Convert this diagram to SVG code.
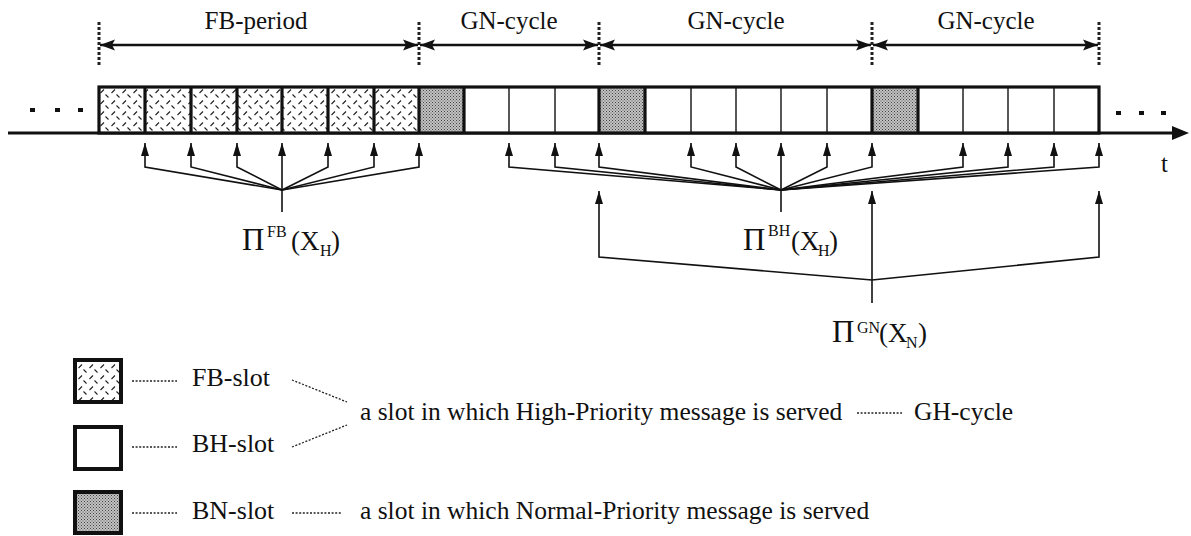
<svg xmlns="http://www.w3.org/2000/svg" width="1191" height="536" viewBox="0 0 1191 536">
<style>
text{font-family:"Liberation Serif","Times New Roman",serif;fill:#111}
.lbl{font-size:25px}
.leg{font-size:25.5px}
.slot{font-size:26px}
.pi{font-size:31px}
.sup{font-size:16px}
.par{font-size:27px}
.mk{stroke:#222;stroke-width:3;stroke-dasharray:3 2;fill:none}
.dbl{stroke:#111;stroke-width:2.5;fill:none}
.con{stroke:#111;stroke-width:1.6;fill:none}
.thick{stroke:#111;stroke-width:3.2}
.thin{stroke:#111;stroke-width:1.4}
.dot{stroke:#222;stroke-width:1.3;stroke-dasharray:2 1.6;fill:none}
.fb{fill:url(#hatch)}
.bn{fill:url(#stip)}
.wh{fill:#fff}
</style>
<defs>
<pattern id="hatch" width="11" height="11" patternUnits="userSpaceOnUse">
<rect width="11" height="11" fill="#fff"/>
<path d="M1.5 5L5 1.5M6.5 6.5L9.5 9.5" stroke="#222" stroke-width="1.1"/>
</pattern>
<pattern id="stip" width="3" height="3" patternUnits="userSpaceOnUse">
<rect width="3" height="3" fill="#c2c2c2"/>
<rect x="0" y="0" width="1" height="1" fill="#444"/>
<rect x="1.5" y="1.5" width="1" height="1" fill="#555"/>
</pattern>
<marker id="ah" markerUnits="userSpaceOnUse" markerWidth="14" markerHeight="10" viewBox="0 0 14 10" refX="13" refY="5" orient="auto">
<path d="M0 1L13 5L0 9Z" fill="#111"/>
</marker>
<marker id="big" markerUnits="userSpaceOnUse" markerWidth="16" markerHeight="12" viewBox="0 0 16 12" refX="15" refY="6" orient="auto-start-reverse">
<path d="M0 0.5L15 6L0 11.5L3 6Z" fill="#111"/>
</marker>
</defs>
<rect width="1191" height="536" fill="#fff"/>

<g id="periods">
<line class="mk" x1="99" y1="22" x2="99" y2="67"/>
<line class="mk" x1="419" y1="22" x2="419" y2="67"/>
<line class="mk" x1="599" y1="22" x2="599" y2="67"/>
<line class="mk" x1="872" y1="22" x2="872" y2="67"/>
<line class="mk" x1="1099" y1="22" x2="1099" y2="67"/>
<line class="dbl" x1="100" y1="45" x2="418" y2="45" marker-start="url(#big)" marker-end="url(#big)"/>
<line class="dbl" x1="420" y1="45" x2="598" y2="45" marker-start="url(#big)" marker-end="url(#big)"/>
<line class="dbl" x1="600" y1="45" x2="871" y2="45" marker-start="url(#big)" marker-end="url(#big)"/>
<line class="dbl" x1="873" y1="45" x2="1098" y2="45" marker-start="url(#big)" marker-end="url(#big)"/>
<text class="lbl" x="256" y="29" text-anchor="middle">FB-period</text>
<text class="lbl" x="509" y="29" text-anchor="middle">GN-cycle</text>
<text class="lbl" x="736" y="29" text-anchor="middle">GN-cycle</text>
<text class="lbl" x="986" y="29" text-anchor="middle">GN-cycle</text>
</g>

<g id="timeline">
<line x1="8" y1="133" x2="1176" y2="133" stroke="#111" stroke-width="3"/>
<path d="M1172 126L1189 133L1172 140Z" fill="#111"/>
<g fill="#111">
<rect x="30" y="108" width="5" height="4"/>
<rect x="55" y="108" width="5" height="4"/>
<rect x="78" y="108" width="5" height="4"/>
<rect x="1116" y="111" width="5" height="4"/>
<rect x="1139" y="111" width="5" height="4"/>
<rect x="1161" y="111" width="5" height="4"/>
</g>
<text class="lbl" x="1161" y="172" font-size="26">t</text>
</g>

<g id="slots">
<rect class="fb" x="99" y="87" width="320" height="46"/>
<rect class="bn" x="419" y="87" width="45" height="46"/>
<rect class="wh" x="464" y="87" width="135" height="46"/>
<rect class="bn" x="599" y="87" width="46" height="46"/>
<rect class="wh" x="645" y="87" width="227" height="46"/>
<rect class="bn" x="872" y="87" width="46" height="46"/>
<rect class="wh" x="918" y="87" width="181" height="46"/>
<g class="thin">
<line x1="509" y1="87" x2="509" y2="133"/>
<line x1="555" y1="87" x2="555" y2="133"/>
<line x1="691" y1="87" x2="691" y2="133"/>
<line x1="736" y1="87" x2="736" y2="133"/>
<line x1="781" y1="87" x2="781" y2="133"/>
<line x1="827" y1="87" x2="827" y2="133"/>
<line x1="963" y1="87" x2="963" y2="133"/>
<line x1="1008" y1="87" x2="1008" y2="133"/>
<line x1="1054" y1="87" x2="1054" y2="133"/>
</g>
<g class="thick">
<line x1="145" y1="87" x2="145" y2="133"/>
<line x1="191" y1="87" x2="191" y2="133"/>
<line x1="237" y1="87" x2="237" y2="133"/>
<line x1="282" y1="87" x2="282" y2="133"/>
<line x1="328" y1="87" x2="328" y2="133"/>
<line x1="374" y1="87" x2="374" y2="133"/>
<line x1="419" y1="87" x2="419" y2="133"/>
<line x1="464" y1="87" x2="464" y2="133"/>
<line x1="599" y1="87" x2="599" y2="133"/>
<line x1="645" y1="87" x2="645" y2="133"/>
<line x1="872" y1="87" x2="872" y2="133"/>
<line x1="918" y1="87" x2="918" y2="133"/>
</g>
<rect x="99" y="87" width="1000" height="46" fill="none" stroke="#111" stroke-width="3.2"/>
</g>

<g id="connectors" class="con">
<path d="M282 212V190"/>
<path d="M282 190L145 167V143" marker-end="url(#ah)"/>
<path d="M282 190L191 167V143" marker-end="url(#ah)"/>
<path d="M282 190L237 167V143" marker-end="url(#ah)"/>
<path d="M282 190V143" marker-end="url(#ah)"/>
<path d="M282 190L328 167V143" marker-end="url(#ah)"/>
<path d="M282 190L374 167V143" marker-end="url(#ah)"/>
<path d="M282 190L419 167V143" marker-end="url(#ah)"/>

<path d="M781 212V190"/>
<path d="M781 190L509 167V143" marker-end="url(#ah)"/>
<path d="M781 190L555 167V143" marker-end="url(#ah)"/>
<path d="M781 190L599 167V143" marker-end="url(#ah)"/>
<path d="M781 190L691 167V143" marker-end="url(#ah)"/>
<path d="M781 190L736 167V143" marker-end="url(#ah)"/>
<path d="M781 190V143" marker-end="url(#ah)"/>
<path d="M781 190L827 167V143" marker-end="url(#ah)"/>
<path d="M781 190L872 167V143" marker-end="url(#ah)"/>
<path d="M781 190L963 167V143" marker-end="url(#ah)"/>
<path d="M781 190L1008 167V143" marker-end="url(#ah)"/>
<path d="M781 190L1054 167V143" marker-end="url(#ah)"/>
<path d="M781 190L1099 167V143" marker-end="url(#ah)"/>

<path d="M872 303V280"/>
<path d="M872 280L599 257V191" marker-end="url(#ah)"/>
<path d="M872 280V191" marker-end="url(#ah)"/>
<path d="M872 280L1099 257V191" marker-end="url(#ah)"/>
</g>

<g id="pi-fb">
<text class="pi" x="242" y="250">Π</text>
<text class="sup" x="267" y="237">FB</text>
<text class="par" x="291" y="250">(X</text>
<text class="sup" x="320" y="256">H</text>
<text class="par" x="331" y="250">)</text>
</g>
<g id="pi-bh">
<text class="pi" x="743" y="250">Π</text>
<text class="sup" x="768" y="236">BH</text>
<text class="par" x="791" y="250">(X</text>
<text class="sup" x="818" y="256">H</text>
<text class="par" x="829" y="250">)</text>
</g>
<g id="pi-gn">
<text class="pi" x="832" y="342">Π</text>
<text class="sup" x="857" y="333">GN</text>
<text class="par" x="879" y="342">(X</text>
<text class="sup" x="906" y="348">N</text>
<text class="par" x="918" y="342">)</text>
</g>

<g id="legend-fb">
<rect class="fb" x="75" y="360" width="46" height="42" stroke="#111" stroke-width="4"/>
<line class="dot" x1="132" y1="381" x2="177" y2="381"/>
<text class="slot" x="192" y="386">FB-slot</text>
</g>
<g id="legend-bh">
<rect class="wh" x="75" y="427" width="46" height="42" stroke="#111" stroke-width="4"/>
<line class="dot" x1="132" y1="447" x2="177" y2="447"/>
<text class="slot" x="192" y="452">BH-slot</text>
</g>
<g id="legend-bn">
<rect class="bn" x="75" y="492" width="46" height="41" stroke="#111" stroke-width="4"/>
<line class="dot" x1="132" y1="513" x2="177" y2="513"/>
<text class="slot" x="192" y="519">BN-slot</text>
</g>
<g id="legend-high">
<line class="dot" x1="292" y1="380" x2="347" y2="402"/>
<line class="dot" x1="292" y1="447" x2="347" y2="425"/>
<text class="leg" x="360" y="420">a slot in which High-Priority message is served</text>
<line class="dot" x1="857" y1="413" x2="902" y2="413"/>
<text class="leg" x="914" y="420">GH-cycle</text>
</g>
<g id="legend-normal">
<line class="dot" x1="292" y1="513" x2="341" y2="513"/>
<text class="leg" x="360" y="519">a slot in which Normal-Priority message is served</text>
</g>
</svg>
